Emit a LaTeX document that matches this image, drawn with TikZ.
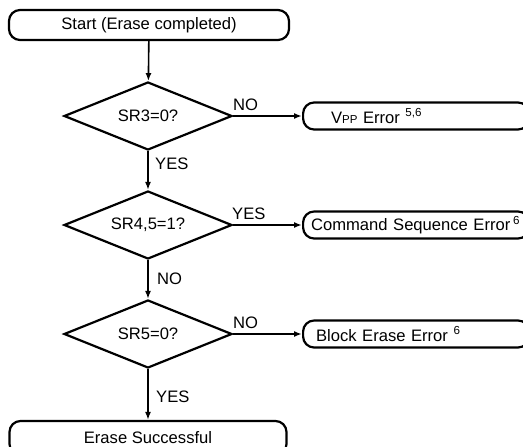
\documentclass[tikz,border=0pt]{standalone}
\usepackage{fontspec}
\setmainfont{Liberation Sans}
\usetikzlibrary{shapes.geometric,arrows.meta}

\begin{document}
\begin{tikzpicture}[x=1pt,y=-1pt,
  font=\fontsize{16.6}{19}\selectfont,
  term/.style={draw, line width=2.2pt, rounded corners=11pt, minimum height=30pt, inner sep=0pt},
  test/.style={draw, diamond, line width=2.2pt, minimum width=168pt, minimum height=68pt, aspect=2.47, inner sep=0pt},
  errbox/.style={draw, line width=2.2pt, rounded corners=11pt, minimum height=27pt, anchor=west, align=left, inner ysep=0pt},
  flow/.style={line width=1.6pt, -{Latex[length=8pt,width=6pt]}},
  tag/.style={inner sep=0pt, anchor=base west}
]
\clip (0,0) rectangle (523,447);

% terminal boxes
\node[term, minimum width=280pt] (start) at (149,25) {Start (Erase completed)};
\node[term, minimum width=277pt, minimum height=34pt] (done) at (148,438) {Erase Successful};

% decisions
\node[test] (d1) at (148,116) {SR3=0?};
\node[test] (d2) at (148,225) {SR4,5=1?};
\node[test] (d3) at (148,334) {SR5=0?};

% error outcomes
\node[errbox, inner xsep=28pt, text width=170pt] (e1) at (302,116)
  {V{\fontsize{11.5}{11}\selectfont PP} Error \textsuperscript{5,6}};
\node[errbox, inner xsep=8pt, text width=210pt] (e2) at (302,225)
  {Command Sequence Error\,\textsuperscript{6}};
\node[errbox, inner xsep=13pt, text width=200pt] (e3) at (302,334)
  {Block Erase Error \textsuperscript{6}};

% connectors
\draw[flow] (start) -- (d1);
\draw[flow] (d1) -- (d2);
\draw[flow] (d2) -- (d3);
\draw[flow] (d3) -- (done);
\draw[flow] (d1.east) -- (d1.east -| e1.west);
\draw[flow] (d2.east) -- (d2.east -| e2.west);
\draw[flow] (d3.east) -- (d3.east -| e3.west);

% branch labels
\node[tag] (n1) at (233,110) {NO};
\node[tag] (y1) at (155,169) {YES};
\node[tag] (y2) at (232,219) {YES};
\node[tag] (n2) at (157,284) {NO};
\node[tag] (n3) at (233,328) {NO};
\node[tag] (y3) at (156,402) {YES};
\end{tikzpicture}
\end{document}
